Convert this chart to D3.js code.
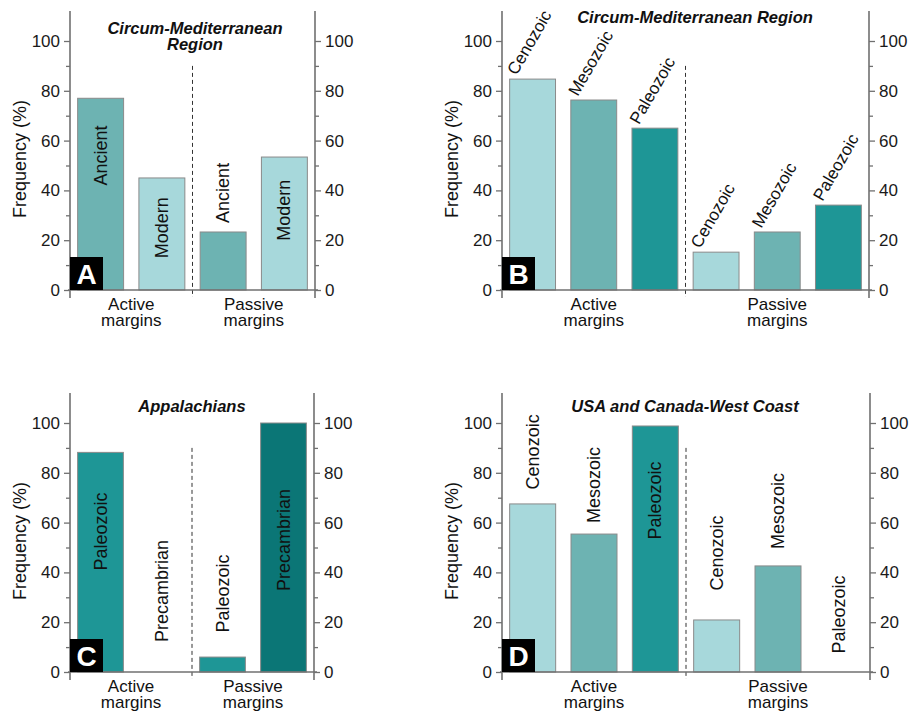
<!DOCTYPE html>
<html>
<head>
  <meta charset="utf-8">
  <title>Frequency by margin type</title>
  <script src="https://d3js.org/d3.v7.min.js"></script>
  <style>
    body { margin: 0; background: #fff; }
    svg { font-family: "Liberation Sans", Arial, sans-serif; }
  </style>
</head>
<body>
  <div id="chart"></div>
  <script>
    // colours used by the bars
    var light = "#a7d8db", medium = "#6db3b2", dark = "#1e9696", darkest = "#0b7676";

    // A - Circum-Mediterranean Region
    var catsA = ["Ancient", "Modern", "Ancient", "Modern"];
    var valsA = [77, 45, 23.3, 53.4];
    var colsA = [medium, light, medium, light];
    var labelMidA = [54, 25, 39, 32]; // where the vertical label is centred (in %)

    // B - Circum-Mediterranean Region, by era
    var catsB = ["Cenozoic", "Mesozoic", "Paleozoic", "Cenozoic", "Mesozoic", "Paleozoic"];
    var valsB = [84.7, 76.3, 65, 15.2, 23.3, 34.1];
    var colsB = [light, medium, dark, light, medium, dark];

    // C - Appalachians
    var catsC = ["Paleozoic", "Precambrian", "Paleozoic", "Precambrian"];
    var valsC = [88.2, 0, 6, 100];
    var colsC = [dark, darkest, dark, darkest];
    var labelMidC = [56.4, 32.5, 31.5, 53];

    // D - USA and Canada-West Coast
    var catsD = ["Cenozoic", "Mesozoic", "Paleozoic", "Cenozoic", "Mesozoic", "Paleozoic"];
    var valsD = [67.5, 55.4, 98.8, 20.9, 42.6, 0];
    var colsD = [light, medium, dark, light, medium, dark];
    var labelMidD = [88.4, 75.1, 68.9, 47.8, 64.7, 23.1];

    var majorTicks = [0, 20, 40, 60, 80, 100];
    var minorTicks = [10, 30, 50, 70, 90];
    var groupNames = [["Active", "margins"], ["Passive", "margins"]];
    var yTitle = "Frequency (%)";

    var svg = d3.select("#chart").append("svg")
      .attr("width", 912)
      .attr("height", 713);

    function drawPanel(p) {
      var g = svg.append("g");

      var x = d3.scaleBand()
        .domain(d3.range(p.values.length))
        .range([p.left, p.right])
        .paddingInner(0.25)
        .paddingOuter(0.125);

      var y = d3.scaleLinear()
        .domain([0, 100])
        .range([p.base, p.base - 249]);

      var nActive = p.values.length / 2;
      var divX = p.left + x.step() * nActive;

      // bars
      g.selectAll("rect.bar")
        .data(p.values.map(function (v, i) { return { v: v, i: i }; }).filter(function (d) { return d.v > 0; }))
        .enter()
        .append("rect")
        .attr("class", "bar")
        .attr("x", function (d) { return x(d.i); })
        .attr("width", x.bandwidth())
        .attr("y", function (d) { return y(d.v); })
        .attr("height", function (d) { return y(0) - y(d.v); })
        .attr("fill", function (d) { return p.colors[d.i]; })
        .attr("stroke", "#8a8a8a")
        .attr("stroke-width", 1);

      // dashed divider between active and passive
      g.append("line")
        .attr("x1", divX).attr("x2", divX)
        .attr("y1", y(90)).attr("y2", p.base + 7)
        .attr("stroke", "#333")
        .attr("stroke-width", 1)
        .attr("stroke-dasharray", "4,3");

      // axes (left and right, mirrored); minor ticks get their own group
      var axisCol = "#707070";
      [[p.left, d3.axisLeft], [p.right, d3.axisRight]].forEach(function (a) {
        var ax = g.append("g").attr("transform", "translate(" + a[0] + ",0)");
        ax.append("g").call(a[1](y).tickValues(majorTicks).tickSize(6).tickPadding(4));
        ax.append("g").call(a[1](y).tickValues(minorTicks).tickSize(4).tickFormat(""));
        ax.selectAll(".domain").remove();
        ax.selectAll("line").attr("stroke", axisCol).attr("stroke-width", 1.3);
        ax.selectAll("text").attr("font-size", 17).attr("fill", "#1a1a1a")
          .attr("font-family", "Liberation Sans, Arial, sans-serif");
        ax.append("line")
          .attr("y1", y(112)).attr("y2", p.base + 8)
          .attr("stroke", axisCol).attr("stroke-width", 1.6);
      });

      // x baseline
      g.append("line")
        .attr("x1", p.left - 2).attr("x2", p.right + 3)
        .attr("y1", p.base).attr("y2", p.base)
        .attr("stroke", axisCol).attr("stroke-width", 1.6);

      // bar labels
      p.cats.forEach(function (c, i) {
        var cx = x(i) + x.bandwidth() / 2;
        if (p.slanted) {
          var tx = cx - 16, ty = y(p.values[i]) - 3;
          g.append("text")
            .attr("transform", "translate(" + tx + "," + ty + ") rotate(-60)")
            .attr("font-size", 17)
            .attr("fill", "#111")
            .text(c);
        } else {
          var my = y(p.labelMid[i]);
          g.append("text")
            .attr("transform", "translate(" + cx + "," + my + ") rotate(-90)")
            .attr("text-anchor", "middle")
            .attr("dominant-baseline", "central")
            .attr("font-size", 18)
            .attr("fill", "#111")
            .text(c);
        }
      });

      // group names under the axis
      var gCenters = [(p.left + divX) / 2, (divX + p.right) / 2];
      groupNames.forEach(function (lines, k) {
        lines.forEach(function (line, j) {
          g.append("text")
            .attr("x", gCenters[k])
            .attr("y", p.base + 20 + j * 16)
            .attr("text-anchor", "middle")
            .attr("font-size", 17)
            .attr("fill", "#111")
            .text(line);
        });
      });

      // y title
      g.append("text")
        .attr("transform", "translate(" + p.yTitleX + "," + (p.base - 131) + ") rotate(-90)")
        .attr("text-anchor", "middle")
        .attr("dominant-baseline", "central")
        .attr("font-size", 18)
        .attr("fill", "#111")
        .text(yTitle);

      // panel title
      p.title.forEach(function (line, k) {
        g.append("text")
          .attr("x", p.titleX)
          .attr("y", p.titleY + k * 16)
          .attr("text-anchor", "middle")
          .attr("font-size", 16.5)
          .attr("font-weight", "bold")
          .attr("font-style", "italic")
          .attr("fill", "#111")
          .text(line);
      });

      // panel letter
      g.append("rect")
        .attr("x", p.left).attr("y", p.base - 33)
        .attr("width", 33).attr("height", 33)
        .attr("fill", "#000");
      g.append("text")
        .attr("x", p.left + 16.5).attr("y", p.base - 6)
        .attr("text-anchor", "middle")
        .attr("font-size", 28)
        .attr("font-weight", "bold")
        .attr("fill", "#fff")
        .text(p.letter);
    }

    drawPanel({ letter: "A", cats: catsA, values: valsA, colors: colsA, labelMid: labelMidA,
      left: 70, right: 315, base: 290, yTitleX: 20,
      title: ["Circum-Mediterranean", "Region"], titleX: 195, titleY: 34 });

    drawPanel({ letter: "B", cats: catsB, values: valsB, colors: colsB, slanted: true,
      left: 502, right: 869, base: 290, yTitleX: 452,
      title: ["Circum-Mediterranean Region"], titleX: 695, titleY: 23 });

    drawPanel({ letter: "C", cats: catsC, values: valsC, colors: colsC, labelMid: labelMidC,
      left: 70, right: 314, base: 672, yTitleX: 20,
      title: ["Appalachians"], titleX: 192, titleY: 412 });

    drawPanel({ letter: "D", cats: catsD, values: valsD, colors: colsD, labelMid: labelMidD,
      left: 502, right: 870, base: 672, yTitleX: 452,
      title: ["USA and Canada-West Coast"], titleX: 685, titleY: 412 });
  </script>
</body>
</html>
